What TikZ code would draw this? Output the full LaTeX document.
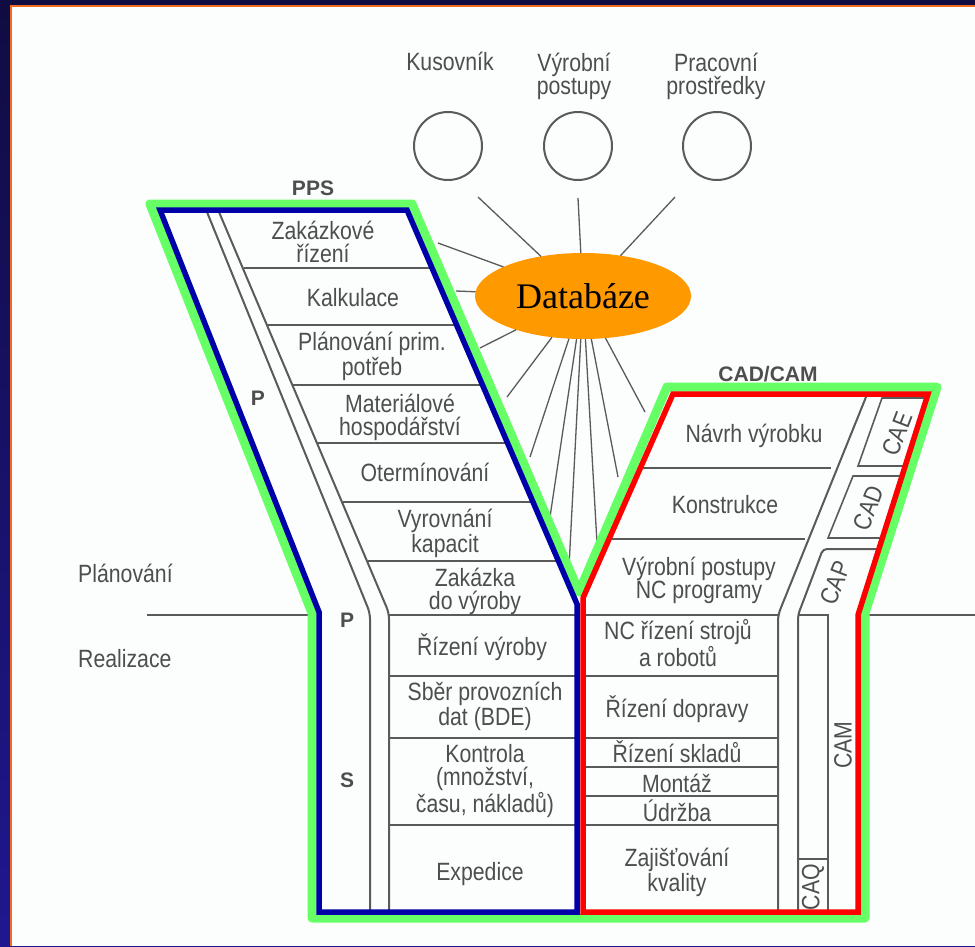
\documentclass[tikz,border=0pt]{standalone}
\usepackage{fontspec}
\newfontfamily\lblfont{Liberation Sans}[FakeStretch=0.85]
\newfontfamily\hdfont{Liberation Sans}
\newfontfamily\dbfont{Liberation Serif}
\usetikzlibrary{shapes.geometric}

\definecolor{inkgray}{HTML}{4E4E4E}
\definecolor{rulegray}{HTML}{5A5A5A}
\definecolor{vgreen}{HTML}{66FF66}
\definecolor{vblue}{HTML}{0000A8}
\definecolor{vred}{HTML}{FF0000}
\definecolor{dborange}{HTML}{FF9900}
\definecolor{navytop}{HTML}{100C42}
\definecolor{navybot}{HTML}{1F178F}
\definecolor{frameorange}{HTML}{F26A1F}
\definecolor{paper}{HTML}{FCFDFD}

\begin{document}
\begin{tikzpicture}[x=1pt,y=-1pt,
  % multi-line labels are placed by the baseline of their last line
  lbl/.style={font=\lblfont\fontsize{25}{23}\selectfont, text=inkgray,
    align=center, inner sep=0pt, anchor=base},
  sidelbl/.style={font=\lblfont\fontsize{25}{23}\selectfont, text=inkgray,
    inner sep=0pt, anchor=base west},
  tag/.style={font=\hdfont\bfseries\fontsize{21}{21}\selectfont, text=inkgray,
    inner sep=0pt, anchor=base},
  sidetag/.style={font=\lblfont\fontsize{25}{23}\selectfont, text=inkgray,
    inner sep=0pt, anchor=center},
  rule/.style={draw=rulegray, line width=1.6pt},
  wall/.style={draw=rulegray, line width=2pt, rounded corners=6pt},
  ring/.style={draw=rulegray, line width=2pt},
  ray/.style={draw=rulegray, line width=1.3pt},
  dbnode/.style={ellipse, fill=dborange, minimum width=216pt, minimum height=86pt,
    inner sep=0pt, outer sep=0pt, font=\dbfont\fontsize{36}{36}\selectfont},
  outerline/.style={draw=vgreen, line width=9pt, line join=round},
  pplan/.style={draw=vblue, line width=5.5pt, line join=miter},
  ccam/.style={draw=vred, line width=5.5pt, line join=miter}
]
\useasboundingbox (0,0) rectangle (975,946);

% slide frame
\shade[top color=navytop, bottom color=navybot] (0,0) rectangle (975,946);
\fill[paper] (10.5,5.5) rectangle (975,946);
\draw[frameorange, line width=2pt] (10.5,946) -- (10.5,5.5) -- (975,5.5);

% data sources
\draw[ring] (448,146) circle[radius=34pt];
\draw[ring] (578,146) circle[radius=34pt];
\draw[ring] (717,146) circle[radius=34pt];
\node[lbl] at (450,70) {Kusovník};
\node[lbl] at (574,94) {Výrobní\\postupy};
\node[lbl] at (716,94) {Pracovní\\prostředky};

% PPS arm: double wall and rows
\draw[wall] (207,212) -- (370,613) -- (370,913);
\draw[wall] (219,212) -- (389,613) -- (389,913);
\draw[rule] (243.6,268) -- (431,268);
\draw[rule] (267.8,325) -- (455,325);
\draw[rule] (293.2,385) -- (481,385);
\draw[rule] (317.8,443) -- (506,443);
\draw[rule] (342.8,502) -- (531,502);
\draw[rule] (368,561) -- (556,561);
\draw[rule] (389,615) -- (577,615);
\draw[rule] (389,676) -- (577,676);
\draw[rule] (389,738) -- (577,738);
\draw[rule] (389,825) -- (577,825);

% CAD/CAM arm: walls, boxes and rows
\draw[wall] (866,397) -- (778,615) -- (778,913);
\draw[rule] (924,398) -- (882,398) -- (858,466) -- (905,466);
\draw[rule] (902,476) -- (853,476) -- (828,538) -- (882,538);
\draw[wall, rounded corners=4pt] (879,549) -- (823,549) -- (798,615) -- (798,913);
\draw[rule] (798,615) -- (828,615) -- (828,913);
\draw[rule] (798,859) -- (828,859);
\draw[rule] (641,468) -- (831,468);
\draw[rule] (611,539) -- (805,539);
\draw[rule] (582,615) -- (778,615);
\draw[rule] (582,676) -- (778,676);
\draw[rule] (582,738) -- (778,738);
\draw[rule] (582,767) -- (778,767);
\draw[rule] (582,796) -- (778,796);
\draw[rule] (582,825) -- (778,825);

% planning / realisation boundary
\draw[rule] (147,615) -- (312,615);
\draw[rule] (865,615) -- (975,615);

% database and its rays
\node[dbnode] (db) at (583,296) {Databáze};
\coordinate (r1) at (478,197);
\coordinate (r2) at (578,198);
\coordinate (r3) at (675,197);
\coordinate (r4) at (438,243);
\coordinate (r5) at (456,291);
\coordinate (r6) at (480,348);
\coordinate (r7) at (507,397);
\coordinate (r8) at (530,457);
\coordinate (r9) at (550,517);
\coordinate (r10) at (569,567);
\coordinate (r11) at (597,543);
\coordinate (r12) at (618,477);
\coordinate (r13) at (645,412);
\foreach \r in {r1,r2,r3,r4,r5,r6,r7,r8,r9,r10,r11,r12,r13}
  \draw[ray] (db) -- (\r);

% highlighted outlines
\draw[outerline] (150,204) -- (412,204) -- (579,592) -- (667,387) -- (937,387)
  -- (865,613) -- (865,918) -- (312,918) -- (312,613) -- cycle;
\draw[pplan] (160,210) -- (407,210) -- (577,604) -- (577,912) -- (319,912)
  -- (319,612) -- cycle;
\draw[ccam] (673,394) -- (928,394) -- (858,615) -- (858,912) -- (583,912)
  -- (583,598) -- cycle;

% headings and side tags
\node[tag] at (313,195) {PPS};
\node[tag] at (768,381) {CAD/CAM};
\node[tag] at (258,405) {P};
\node[tag] at (347,627) {P};
\node[tag] at (347,787) {S};
\node[sidelbl] at (78,582) {Plánování};
\node[sidelbl] at (78,667) {Realizace};

% PPS rows
\node[lbl] at (323,262) {Zakázkové\\řízení};
\node[lbl] at (353,306) {Kalkulace};
\node[lbl] at (372,375) {Plánování prim.\\potřeb};
\node[lbl] at (400,435) {Materiálové\\hospodářství};
\node[lbl] at (425,481) {Otermínování};
\node[lbl] at (445,552) {Vyrovnání\\kapacit};
\node[lbl] at (475,609) {Zakázka\\do výroby};
\node[lbl] at (482,655) {Řízení výroby};
\node[lbl] at (485,725) {Sběr provozních\\dat (BDE)};
\node[lbl] at (485,812) {Kontrola\\(množství,\\času, nákladů)};
\node[lbl] at (480,880) {Expedice};

% CAD/CAM rows
\node[lbl] at (754,442) {Návrh výrobku};
\node[lbl] at (725,513) {Konstrukce};
\node[lbl] at (699,598) {Výrobní postupy\\NC programy};
\node[lbl] at (678,666) {NC řízení strojů\\a robotů};
\node[lbl] at (677,717) {Řízení dopravy};
\node[lbl] at (677,762) {Řízení skladů};
\node[lbl] at (677,792) {Montáž};
\node[lbl] at (677,821) {Údržba};
\node[lbl] at (677,891) {Zajišťování\\kvality};

% rotated tags
\node[sidetag, rotate=69] at (897,434) {CAE};
\node[sidetag, rotate=69] at (868,508) {CAD};
\node[sidetag, rotate=69] at (835,583) {CAP};
\node[sidetag, rotate=90] at (843,745) {CAM};
\node[sidetag, rotate=90] at (813,887) {CAQ};
\end{tikzpicture}
\end{document}
